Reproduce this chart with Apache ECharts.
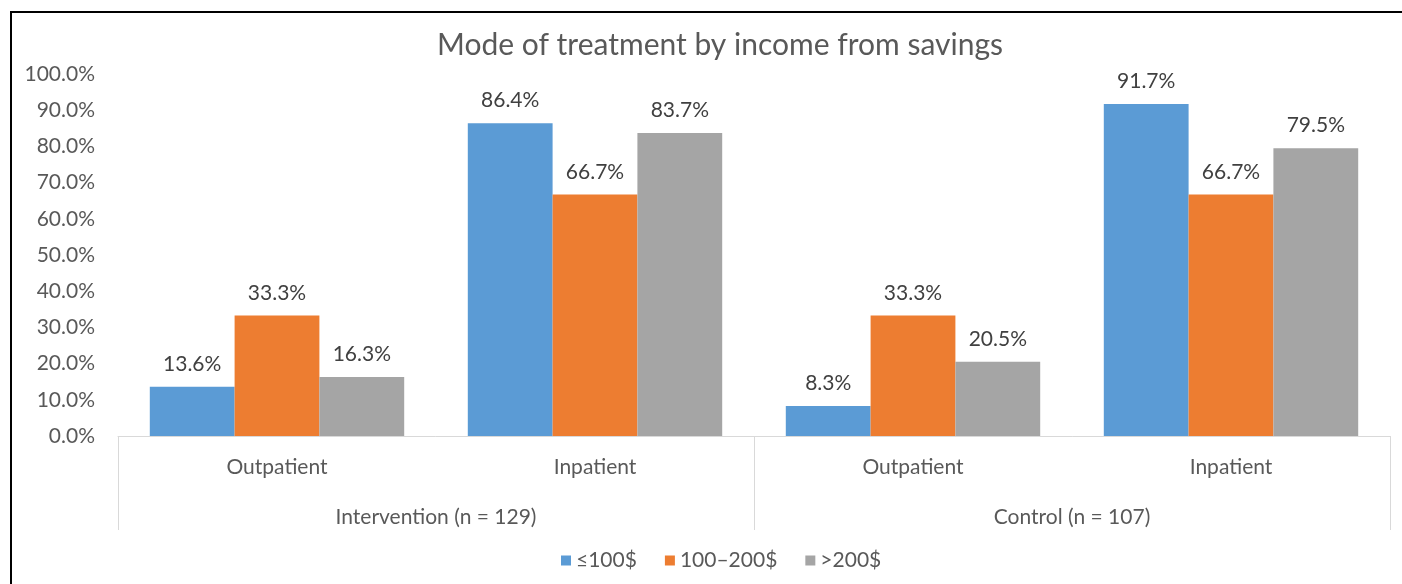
<!DOCTYPE html>
<html>
<head>
<meta charset="utf-8">
<script src="https://cdn.jsdelivr.net/npm/echarts@6/dist/echarts.min.js"></script>
<style>
html,body{margin:0;padding:0;background:#fff;}
#c{width:1402px;height:584px;}
</style>
</head>
<body>
<div id="c"></div>
<script>
var categories = ["Outpatient", "Inpatient", "Outpatient", "Inpatient"];
var groups = ["Intervention (n = 129)", "Control (n = 107)"];
var seriesNames = ["≤100$", "100–200$", ">200$"];
var low = [13.6, 86.4, 8.3, 91.7];
var mid = [33.3, 66.7, 33.3, 66.7];
var high = [16.3, 83.7, 20.5, 79.5];
var colors = ["#5b9bd5", "#ed7d31", "#a5a5a5"];
var FONT = "Lato";
var FS = 21;

var chart = echarts.init(document.getElementById('c'));
function mk(name, data, color) {
  return {
    name: name, type: 'bar', data: data, barGap: '0%', barCategoryGap: '20%',
    itemStyle: {color: color},
    label: {show: true, position: 'top', distance: 12, color: '#404040', fontSize: FS, fontFamily: FONT,
      formatter: function(p){ return p.value.toFixed(1) + '%'; }}
  };
}
chart.setOption({
  animation: false,
  title: {text: 'Mode of treatment by income from savings', left: 715, textAlign: 'center', top: 25,
    textStyle: {fontSize: 30, fontWeight: 'normal', color: '#595959', fontFamily: FONT}},
  grid: {left: 118, right: 12, top: 74, bottom: 148},
  legend: {bottom: 8, left: 556, itemWidth: 10, itemHeight: 10, itemGap: 28, icon: 'rect',
    textStyle: {fontSize: FS, color: '#595959', fontFamily: FONT}, data: seriesNames},
  xAxis: [
    {type: 'category', data: categories, position: 'bottom',
     axisLine: {show: true, lineStyle: {color: '#d9d9d9', width: 1}},
     axisTick: {show: false},
     axisLabel: {margin: 21, fontSize: FS, color: '#595959', fontFamily: FONT}},
    {type: 'category', data: groups, position: 'bottom', offset: 0,
     axisLine: {show: false},
     axisTick: {show: true, length: 94, lineStyle: {color: '#d9d9d9', width: 1}},
     axisLabel: {margin: 71, fontSize: FS, color: '#595959', fontFamily: FONT}}
  ],
  yAxis: {type: 'value', min: 0, max: 100, interval: 10,
    axisLine: {show: false}, axisTick: {show: false}, splitLine: {show: false},
    axisLabel: {fontSize: FS, color: '#595959', fontFamily: FONT, margin: 23,
      formatter: function(v){ return v.toFixed(1) + '%'; }}},
  series: [mk(seriesNames[0], low, colors[0]), mk(seriesNames[1], mid, colors[1]), mk(seriesNames[2], high, colors[2])],
  graphic: [
    {type: 'line', shape: {x1: 11, y1: 12, x2: 1402, y2: 12}, style: {stroke: '#000', lineWidth: 2}},
    {type: 'line', shape: {x1: 11, y1: 11, x2: 11, y2: 584}, style: {stroke: '#000', lineWidth: 2}}
  ]
});
</script>
</body>
</html>
